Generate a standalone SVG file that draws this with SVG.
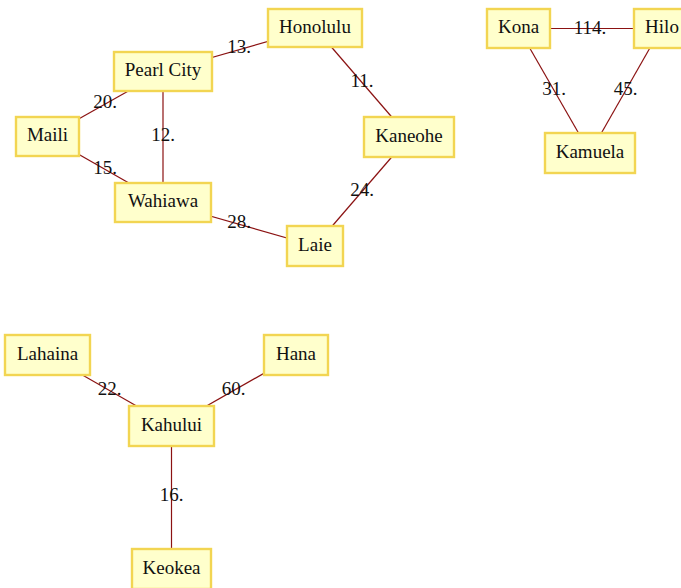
<svg xmlns="http://www.w3.org/2000/svg" width="681" height="588" viewBox="0 0 681 588">
<style>
.n rect{fill:#ffffcc;stroke:#f2d552;stroke-width:2.4}
.n text{font-family:"Liberation Serif","Times New Roman",serif;font-size:19px;fill:#111;text-anchor:middle}
.e line{stroke:#8b1212;stroke-width:1.2}
.e text{font-family:"Liberation Serif","Times New Roman",serif;font-size:19px;fill:#111;text-anchor:middle}
</style>
<rect width="681" height="588" fill="#ffffff"/>
<g id="edges" class="e">
<line x1="163" y1="71.5" x2="315" y2="28"/>
<line x1="47.5" y1="136.5" x2="163" y2="71.5"/>
<line x1="47.5" y1="136.5" x2="163" y2="202.5"/>
<line x1="163" y1="71.5" x2="163" y2="202.5"/>
<line x1="163" y1="202.5" x2="315" y2="246"/>
<line x1="315" y1="28" x2="409" y2="137"/>
<line x1="409" y1="137" x2="315" y2="246"/>
<line x1="518.5" y1="28.5" x2="661" y2="28.5"/>
<line x1="518.5" y1="28.5" x2="590" y2="153"/>
<line x1="661" y1="28.5" x2="590" y2="153"/>
<line x1="47.5" y1="355" x2="171.5" y2="426"/>
<line x1="296" y1="355" x2="171.5" y2="426"/>
<line x1="171.5" y1="426" x2="171.5" y2="569"/>
<text x="239" y="53">13.</text>
<text x="105" y="107.5">20.</text>
<text x="105" y="174">15.</text>
<text x="163" y="141">12.</text>
<text x="239" y="227.5">28.</text>
<text x="362" y="86.5">11.</text>
<text x="362" y="196">24.</text>
<text x="590" y="33.5">114.</text>
<text x="554" y="94.5">31.</text>
<text x="625.5" y="94.5">45.</text>
<text x="109.5" y="394.5">22.</text>
<text x="233.5" y="394.5">60.</text>
<text x="171.5" y="501">16.</text>
</g>
<g id="honolulu" class="n"><rect x="268" y="9" width="94" height="38"/><text x="315" y="33">Honolulu</text></g>
<g id="pearl-city" class="n"><rect x="114" y="52" width="98" height="39"/><text x="163" y="75.5">Pearl City</text></g>
<g id="maili" class="n"><rect x="16" y="117" width="63" height="39"/><text x="47.5" y="141">Maili</text></g>
<g id="wahiawa" class="n"><rect x="115" y="183" width="96" height="39"/><text x="163" y="207">Wahiawa</text></g>
<g id="laie" class="n"><rect x="287" y="226" width="56" height="40"/><text x="315" y="250.5">Laie</text></g>
<g id="kaneohe" class="n"><rect x="364" y="117" width="90" height="40"/><text x="409" y="141.5">Kaneohe</text></g>
<g id="kona" class="n"><rect x="487" y="9" width="63" height="39"/><text x="518.5" y="33">Kona</text></g>
<g id="hilo" class="n"><rect x="634" y="9" width="56" height="39"/><text x="662" y="33">Hilo</text></g>
<g id="kamuela" class="n"><rect x="545" y="133" width="90" height="40"/><text x="590" y="157.5">Kamuela</text></g>
<g id="lahaina" class="n"><rect x="5" y="335" width="85" height="40"/><text x="47.5" y="359.5">Lahaina</text></g>
<g id="hana" class="n"><rect x="264" y="335" width="64" height="40"/><text x="296" y="359.5">Hana</text></g>
<g id="kahului" class="n"><rect x="129" y="406" width="85" height="40"/><text x="171.5" y="430.5">Kahului</text></g>
<g id="keokea" class="n"><rect x="132" y="549" width="79" height="40"/><text x="171.5" y="573.5">Keokea</text></g>
</svg>
